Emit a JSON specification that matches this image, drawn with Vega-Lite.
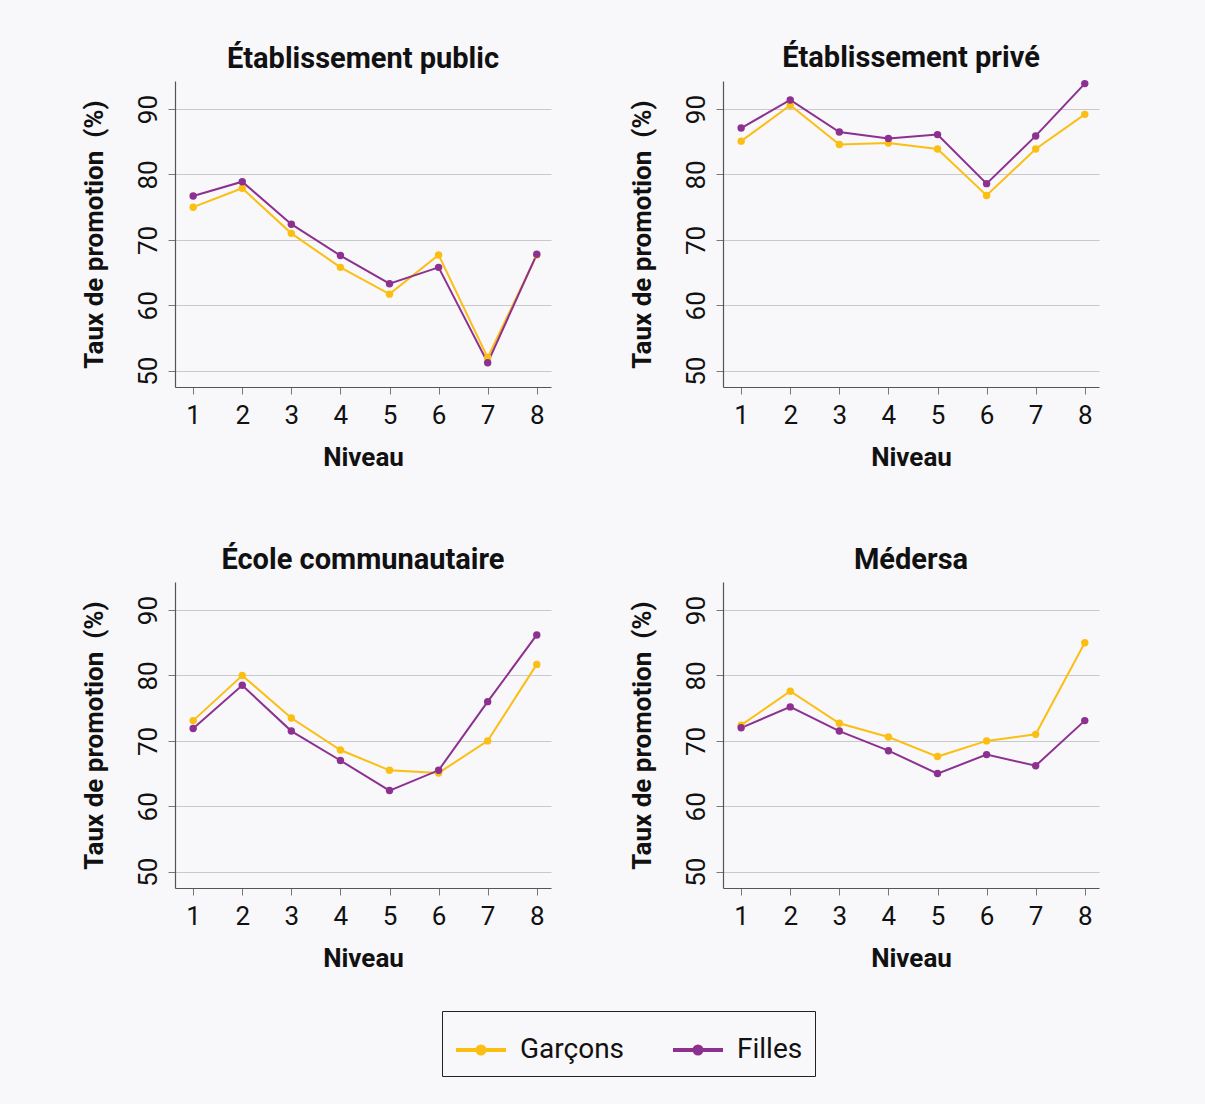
{
  "$schema": "https://vega.github.io/schema/vega-lite/v6.json",
  "background": "#f8f7fa",
  "padding": {"left": 80, "top": 43, "right": 112, "bottom": 30},
  "data": {"values": [
    {"panel": "Établissement public", "niveau": 1, "sexe": "Garçons", "taux": 75.0},
    {"panel": "Établissement public", "niveau": 2, "sexe": "Garçons", "taux": 77.9},
    {"panel": "Établissement public", "niveau": 3, "sexe": "Garçons", "taux": 71.0},
    {"panel": "Établissement public", "niveau": 4, "sexe": "Garçons", "taux": 65.8},
    {"panel": "Établissement public", "niveau": 5, "sexe": "Garçons", "taux": 61.7},
    {"panel": "Établissement public", "niveau": 6, "sexe": "Garçons", "taux": 67.7},
    {"panel": "Établissement public", "niveau": 7, "sexe": "Garçons", "taux": 52.0},
    {"panel": "Établissement public", "niveau": 8, "sexe": "Garçons", "taux": 67.7},
    {"panel": "Établissement public", "niveau": 1, "sexe": "Filles", "taux": 76.7},
    {"panel": "Établissement public", "niveau": 2, "sexe": "Filles", "taux": 78.9},
    {"panel": "Établissement public", "niveau": 3, "sexe": "Filles", "taux": 72.4},
    {"panel": "Établissement public", "niveau": 4, "sexe": "Filles", "taux": 67.6},
    {"panel": "Établissement public", "niveau": 5, "sexe": "Filles", "taux": 63.3},
    {"panel": "Établissement public", "niveau": 6, "sexe": "Filles", "taux": 65.8},
    {"panel": "Établissement public", "niveau": 7, "sexe": "Filles", "taux": 51.2},
    {"panel": "Établissement public", "niveau": 8, "sexe": "Filles", "taux": 67.8},
    {"panel": "Établissement privé", "niveau": 1, "sexe": "Garçons", "taux": 85.1},
    {"panel": "Établissement privé", "niveau": 2, "sexe": "Garçons", "taux": 90.6},
    {"panel": "Établissement privé", "niveau": 3, "sexe": "Garçons", "taux": 84.6},
    {"panel": "Établissement privé", "niveau": 4, "sexe": "Garçons", "taux": 84.8},
    {"panel": "Établissement privé", "niveau": 5, "sexe": "Garçons", "taux": 83.9},
    {"panel": "Établissement privé", "niveau": 6, "sexe": "Garçons", "taux": 76.8},
    {"panel": "Établissement privé", "niveau": 7, "sexe": "Garçons", "taux": 83.9},
    {"panel": "Établissement privé", "niveau": 8, "sexe": "Garçons", "taux": 89.2},
    {"panel": "Établissement privé", "niveau": 1, "sexe": "Filles", "taux": 87.1},
    {"panel": "Établissement privé", "niveau": 2, "sexe": "Filles", "taux": 91.4},
    {"panel": "Établissement privé", "niveau": 3, "sexe": "Filles", "taux": 86.5},
    {"panel": "Établissement privé", "niveau": 4, "sexe": "Filles", "taux": 85.5},
    {"panel": "Établissement privé", "niveau": 5, "sexe": "Filles", "taux": 86.1},
    {"panel": "Établissement privé", "niveau": 6, "sexe": "Filles", "taux": 78.6},
    {"panel": "Établissement privé", "niveau": 7, "sexe": "Filles", "taux": 85.9},
    {"panel": "Établissement privé", "niveau": 8, "sexe": "Filles", "taux": 93.9},
    {"panel": "École communautaire", "niveau": 1, "sexe": "Garçons", "taux": 73.1},
    {"panel": "École communautaire", "niveau": 2, "sexe": "Garçons", "taux": 80.0},
    {"panel": "École communautaire", "niveau": 3, "sexe": "Garçons", "taux": 73.5},
    {"panel": "École communautaire", "niveau": 4, "sexe": "Garçons", "taux": 68.6},
    {"panel": "École communautaire", "niveau": 5, "sexe": "Garçons", "taux": 65.5},
    {"panel": "École communautaire", "niveau": 6, "sexe": "Garçons", "taux": 65.1},
    {"panel": "École communautaire", "niveau": 7, "sexe": "Garçons", "taux": 70.0},
    {"panel": "École communautaire", "niveau": 8, "sexe": "Garçons", "taux": 81.7},
    {"panel": "École communautaire", "niveau": 1, "sexe": "Filles", "taux": 71.9},
    {"panel": "École communautaire", "niveau": 2, "sexe": "Filles", "taux": 78.5},
    {"panel": "École communautaire", "niveau": 3, "sexe": "Filles", "taux": 71.5},
    {"panel": "École communautaire", "niveau": 4, "sexe": "Filles", "taux": 67.0},
    {"panel": "École communautaire", "niveau": 5, "sexe": "Filles", "taux": 62.4},
    {"panel": "École communautaire", "niveau": 6, "sexe": "Filles", "taux": 65.5},
    {"panel": "École communautaire", "niveau": 7, "sexe": "Filles", "taux": 76.0},
    {"panel": "École communautaire", "niveau": 8, "sexe": "Filles", "taux": 86.2},
    {"panel": "Médersa", "niveau": 1, "sexe": "Garçons", "taux": 72.4},
    {"panel": "Médersa", "niveau": 2, "sexe": "Garçons", "taux": 77.6},
    {"panel": "Médersa", "niveau": 3, "sexe": "Garçons", "taux": 72.7},
    {"panel": "Médersa", "niveau": 4, "sexe": "Garçons", "taux": 70.6},
    {"panel": "Médersa", "niveau": 5, "sexe": "Garçons", "taux": 67.6},
    {"panel": "Médersa", "niveau": 6, "sexe": "Garçons", "taux": 70.0},
    {"panel": "Médersa", "niveau": 7, "sexe": "Garçons", "taux": 71.0},
    {"panel": "Médersa", "niveau": 8, "sexe": "Garçons", "taux": 85.0},
    {"panel": "Médersa", "niveau": 1, "sexe": "Filles", "taux": 72.0},
    {"panel": "Médersa", "niveau": 2, "sexe": "Filles", "taux": 75.2},
    {"panel": "Médersa", "niveau": 3, "sexe": "Filles", "taux": 71.5},
    {"panel": "Médersa", "niveau": 4, "sexe": "Filles", "taux": 68.5},
    {"panel": "Médersa", "niveau": 5, "sexe": "Filles", "taux": 65.0},
    {"panel": "Médersa", "niveau": 6, "sexe": "Filles", "taux": 67.9},
    {"panel": "Médersa", "niveau": 7, "sexe": "Filles", "taux": 66.2},
    {"panel": "Médersa", "niveau": 8, "sexe": "Filles", "taux": 73.1}
  ]},
  "facet": {
    "field": "panel",
    "type": "nominal",
    "sort": ["Établissement public", "Établissement privé", "École communautaire", "Médersa"],
    "title": null,
    "header": {
      "labelFont": "Roboto",
      "labelFontSize": 29,
      "labelFontWeight": "bold",
      "labelColor": "#111111",
      "labelPadding": 7
    }
  },
  "columns": 2,
  "spacing": {"column": 77, "row": 76},
  "resolve": {"axis": {"x": "independent", "y": "independent"}},
  "spec": {
    "width": 376,
    "height": 306,
    "mark": {"type": "line", "strokeWidth": 2, "point": {"filled": true, "size": 55}},
    "encoding": {
      "x": {
        "field": "niveau", "type": "quantitative",
        "scale": {"domain": [0.63, 8.29], "nice": false, "zero": false},
        "axis": {"values": [1, 2, 3, 4, 5, 6, 7, 8], "title": "Niveau", "grid": false, "tickSize": 7, "labelPadding": 8, "titlePadding": 16}
      },
      "y": {
        "field": "taux", "type": "quantitative",
        "scale": {"domain": [47.5, 94.3], "nice": false, "zero": false},
        "axis": {"values": [50, 60, 70, 80, 90], "title": "Taux de promotion \u00a0(%)", "grid": true, "labelAngle": -90, "labelAlign": "center", "labelBaseline": "bottom", "tickSize": 7, "labelPadding": 7, "titlePadding": 28}
      },
      "color": {
        "field": "sexe", "type": "nominal",
        "scale": {"domain": ["Garçons", "Filles"], "range": ["#fbbf14", "#8c3190"]},
        "legend": {
          "title": null,
          "orient": "none",
          "direction": "horizontal",
          "legendX": 267,
          "legendY": 930,
          "symbolType": "M -1 0 L 1 0 M 0.14 0 A 0.14 0.14 0 1 1 -0.14 0 A 0.14 0.14 0 1 1 0.14 0",
          "symbolSize": 2500,
          "symbolStrokeWidth": 4,
          "labelFont": "Roboto",
          "labelFontSize": 28,
          "labelColor": "#111111",
          "labelOffset": 12,
          "columnPadding": 40,
          "padding": 12,
          "strokeColor": "#222222"
        }
      },
      "order": {"field": "niveau"}
    }
  },
  "config": {
    "font": "Roboto",
    "view": {"stroke": null},
    "axis": {
      "labelFont": "Roboto",
      "labelFontSize": 26,
      "labelColor": "#111111",
      "titleFont": "Roboto",
      "titleFontSize": 26,
      "titleFontWeight": "bold",
      "titleColor": "#111111",
      "domainColor": "#555555",
      "domainWidth": 1.2,
      "tickColor": "#777777",
      "gridColor": "#c9c9cc",
      "gridWidth": 1
    }
  }
}
